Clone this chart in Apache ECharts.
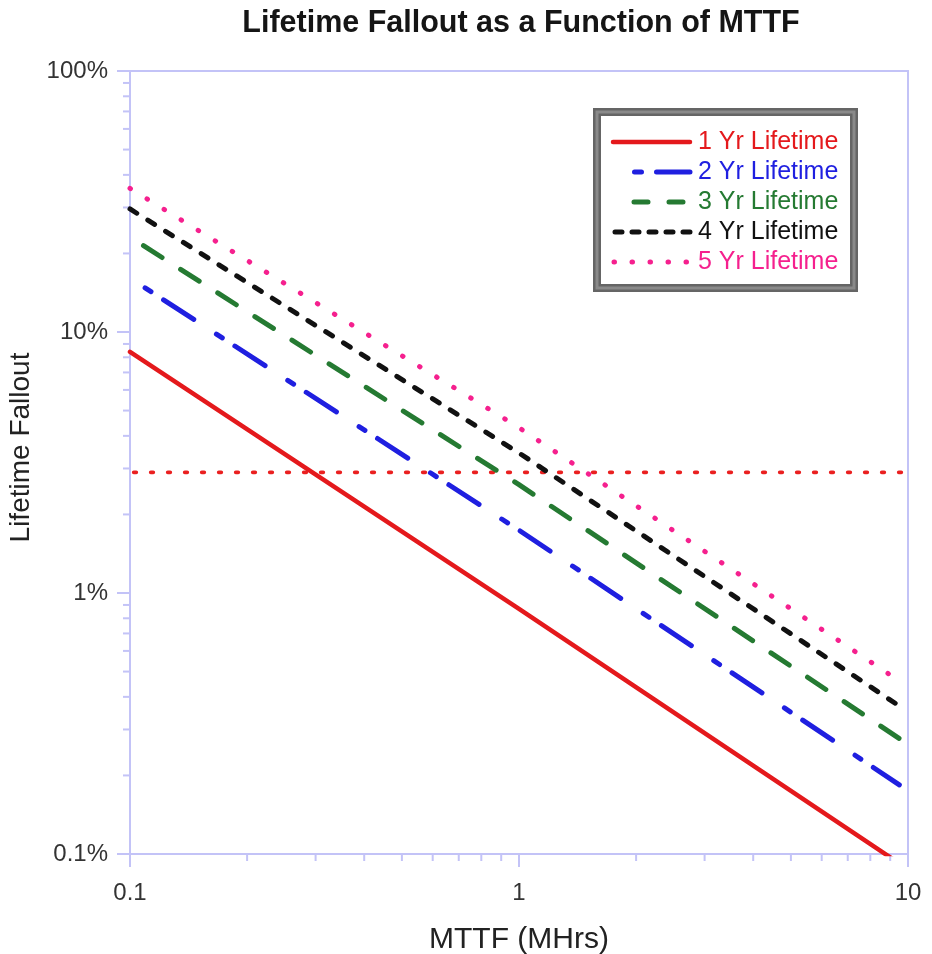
<!DOCTYPE html>
<html>
<head>
<meta charset="utf-8">
<title>Lifetime Fallout as a Function of MTTF</title>
<script src="https://cdn.jsdelivr.net/npm/echarts@6/dist/echarts.min.js"></script>
<style>
  html, body { margin: 0; padding: 0; background: #ffffff; }
  #chart { width: 932px; height: 954px; }
</style>
</head>
<body>
<div id="chart"></div>
<script>
// MTTF in millions of hours (x), fallout in percent (y)
const mttf = [0.1, 1, 9.5];
const fallout1yr = [8.4, 0.87, 0.092];
const fallout2yr = [16.1, 1.74, 0.184];
const fallout3yr = [23.1, 2.6, 0.277];
const fallout4yr = [29.6, 3.44, 0.369];
const fallout5yr = [35.5, 4.3, 0.46];

// Fallout budget drawn as a horizontal reference line (%)
const budgetPct = 2.9;
const budgetSpan = [0.1, 10];

const seriesNames = ['1 Yr Lifetime', '2 Yr Lifetime', '3 Yr Lifetime', '4 Yr Lifetime', '5 Yr Lifetime'];
const xTickLabels = ['0.1', '1', '10'];
const yTickLabels = ['0.1%', '1%', '10%', '100%'];

const X_MIN = 0.1, X_MAX = 10, Y_MIN = 0.1, Y_MAX = 100;
const FONT = "'Liberation Sans', Arial, Helvetica, sans-serif";
const AXIS_COLOR = '#c3c3f7';

const colors = ['#e4191c', '#1f1fe0', '#257a32', '#111111', '#f5208e'];

// line styles for the curves (plot) and for the key samples
const plotStyles = [
  { width: 4.5, dash: null, offset: 0 },
  { width: 5, dash: [36, 27, 7, 15], offset: 45 },
  { width: 5, dash: [22, 22], offset: 28 },
  { width: 5, dash: [8, 13], offset: 0 },
  { width: 5, dash: [0.5, 19.5], offset: 0 }
];
const keyStyles = [
  { width: 4.5, dash: null, offset: 0, x0: 613 },
  { width: 5, dash: [36, 27, 7, 15], offset: 41.5, x0: 613 },
  { width: 5, dash: [14, 21], offset: 0, x0: 634 },
  { width: 5, dash: [7, 10], offset: 0, x0: 615 },
  { width: 5, dash: [0.5, 17.5], offset: 0, x0: 614 }
];

// minor ticks at 2..9 of every decade
function minorTicks(lo, hi) {
  const out = [];
  for (let d = lo; d < hi * 0.999; d *= 10) {
    for (let k = 2; k <= 9; k++) out.push(+(k * d).toPrecision(3));
  }
  return out;
}
const xMinorTicks = minorTicks(X_MIN, X_MAX);
const yMinorTicks = minorTicks(Y_MIN, Y_MAX);

function pairs(xs, ys) { return xs.map((x, i) => [x, ys[i]]); }

const chart = echarts.init(document.getElementById('chart'), null, { renderer: 'canvas' });

function lineSeries(i, values) {
  const st = plotStyles[i];
  return {
    name: seriesNames[i],
    type: 'line',
    data: pairs(mttf, values),
    symbol: 'none',
    showSymbol: false,
    clip: true,
    z: 3,
    lineStyle: {
      color: colors[i],
      width: st.width,
      type: st.dash || 'solid',
      dashOffset: st.offset,
      cap: 'round'
    },
    itemStyle: { color: colors[i] },
    emphasis: { disabled: true }
  };
}

// key box drawn with graphic elements
const KEY_X1 = 690, KEY_TEXT_X = 698, KEY_Y0 = 142, KEY_STEP = 30;
const keyGraphics = [
  {
    type: 'rect', z: 10,
    shape: { x: 597, y: 112, width: 257, height: 176 },
    style: { fill: '#ffffff', stroke: '#656565', lineWidth: 8 }
  },
  {
    type: 'rect', z: 10,
    shape: { x: 597, y: 112, width: 257, height: 176 },
    style: { fill: 'none', stroke: '#8a8a8a', lineWidth: 3 }
  }
];
seriesNames.forEach(function (name, i) {
  const ks = keyStyles[i];
  const y = KEY_Y0 + i * KEY_STEP;
  keyGraphics.push({
    type: 'line', z: 11,
    shape: { x1: ks.x0, y1: y, x2: KEY_X1, y2: y },
    style: {
      stroke: colors[i], lineWidth: ks.width, lineCap: 'round',
      lineDash: ks.dash || null, lineDashOffset: ks.offset
    }
  });
  keyGraphics.push({
    type: 'text', z: 11,
    x: KEY_TEXT_X, y: y,
    style: {
      text: name, fill: colors[i], font: '25px ' + FONT,
      textAlign: 'left', textVerticalAlign: 'middle'
    }
  });
});

const option = {
  animation: false,
  backgroundColor: '#ffffff',
  title: {
    text: 'Lifetime Fallout as a Function of MTTF',
    left: 516,
    top: 3,
    textAlign: 'center',
    textStyle: { fontFamily: FONT, fontSize: 30.5, fontWeight: 'bold', color: '#151515' }
  },
  grid: {
    left: 130, right: 24, top: 71, bottom: 100,
    outerBoundsMode: 'none',
    containLabel: false,
    show: true,
    borderColor: AXIS_COLOR,
    borderWidth: 2,
    backgroundColor: 'transparent'
  },
  xAxis: {
    type: 'log',
    logBase: 10,
    min: X_MIN,
    max: X_MAX,
    name: 'MTTF (MHrs)',
    nameLocation: 'middle',
    nameGap: 71,
    nameTextStyle: { fontFamily: FONT, fontSize: 30, color: '#222222' },
    axisLine: { show: true, lineStyle: { color: AXIS_COLOR, width: 2 } },
    axisTick: { show: true, inside: false, length: 13, lineStyle: { color: AXIS_COLOR, width: 2 } },
    axisLabel: {
      margin: 27,
      fontFamily: FONT, fontSize: 24, color: '#333333',
      formatter: function (v) {
        const i = Math.round(Math.log10(v) - Math.log10(X_MIN));
        return xTickLabels[i] || '';
      }
    },
    splitLine: { show: false },
    minorTick: { show: false }
  },
  yAxis: {
    type: 'log',
    logBase: 10,
    min: Y_MIN,
    max: Y_MAX,
    name: 'Lifetime Fallout',
    nameLocation: 'middle',
    nameRotate: 90,
    nameGap: 77,
    nameTextStyle: { fontFamily: FONT, fontSize: 28, color: '#222222', padding: [0, 0, 0, 30] },
    axisLine: { show: true, lineStyle: { color: AXIS_COLOR, width: 2 } },
    axisTick: { show: true, inside: false, length: 13, lineStyle: { color: AXIS_COLOR, width: 2 } },
    axisLabel: {
      margin: 22,
      fontFamily: FONT, fontSize: 24, color: '#333333',
      formatter: function (v) {
        const i = Math.round(Math.log10(v) - Math.log10(Y_MIN));
        return yTickLabels[i] || '';
      }
    },
    splitLine: { show: false },
    minorTick: { show: false }
  },
  graphic: keyGraphics,
  series: [
    lineSeries(0, fallout1yr),
    lineSeries(1, fallout2yr),
    lineSeries(2, fallout3yr),
    lineSeries(3, fallout4yr),
    lineSeries(4, fallout5yr),
    {
      name: 'budget',
      type: 'line',
      data: budgetSpan.map(x => [x, budgetPct]),
      symbol: 'none',
      z: 2,
      lineStyle: { color: '#ea2020', width: 3.8, type: [2.5, 14.5], dashOffset: 13.25, cap: 'round' },
      emphasis: { disabled: true }
    },
    {
      name: 'yMinor',
      type: 'custom',
      silent: true,
      clip: false,
      data: yMinorTicks.map(v => [X_MIN, v]),
      renderItem: function (params, api) {
        const p = api.coord([api.value(0), api.value(1)]);
        return {
          type: 'line',
          shape: { x1: p[0] - 7, y1: p[1], x2: p[0], y2: p[1] },
          style: { stroke: AXIS_COLOR, lineWidth: 2 }
        };
      }
    },
    {
      name: 'xMinor',
      type: 'custom',
      silent: true,
      clip: false,
      data: xMinorTicks.map(v => [v, Y_MIN]),
      renderItem: function (params, api) {
        const p = api.coord([api.value(0), api.value(1)]);
        return {
          type: 'line',
          shape: { x1: p[0], y1: p[1], x2: p[0], y2: p[1] + 7 },
          style: { stroke: AXIS_COLOR, lineWidth: 2 }
        };
      }
    }
  ]
};

chart.setOption(option);
</script>
</body>
</html>
